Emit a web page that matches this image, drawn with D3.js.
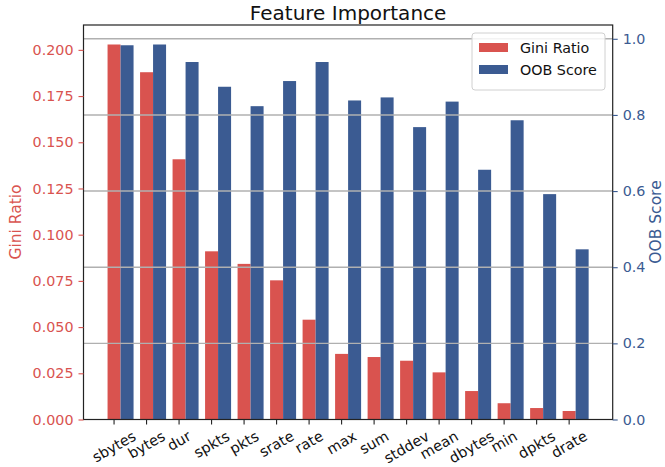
<!DOCTYPE html>
<html>
<head>
<meta charset="utf-8">
<script src="https://cdn.jsdelivr.net/npm/d3@7"></script>
<style>
  html, body { margin: 0; padding: 0; background: #fff; }
  svg { display: block; font-family: "DejaVu Sans", sans-serif; }
</style>
</head>
<body>
<svg id="chart" width="665" height="467"></svg>
<script>
// Feature names, in order of Gini importance
const features = ["sbytes", "bytes", "dur", "spkts", "pkts", "srate", "rate", "max",
                  "sum", "stddev", "mean", "dbytes", "min", "dpkts", "drate"];
// Gini importance ratio per feature (left axis)
const giniRatio = [0.2029, 0.1879, 0.1408, 0.0910, 0.0842, 0.0753, 0.0540, 0.0355,
                   0.0338, 0.0318, 0.0255, 0.0154, 0.0088, 0.0062, 0.0046];
// Out-of-bag score per feature (right axis)
const oobScore = [0.983, 0.985, 0.939, 0.874, 0.823, 0.889, 0.939, 0.838,
                  0.846, 0.768, 0.835, 0.656, 0.786, 0.592, 0.447];
// Tick values
const giniTicks = [0, 0.025, 0.05, 0.075, 0.1, 0.125, 0.15, 0.175, 0.2];
const oobTicks = [0, 0.2, 0.4, 0.6, 0.8, 1.0];

const RED = "#d9534f";
const BLUE = "#3b5b92";

const svg = d3.select("#chart");
const L = 83.5, R = 612.7, T = 25, B = 419.5;
const barW = 0.4;

const x = d3.scaleLinear().domain([-0.94, 15.34]).range([L, R]);
const yG = d3.scaleLinear().domain([0, d3.max(giniRatio) * 1.052]).range([B, T]);
const yO = d3.scaleLinear().domain([0, d3.max(oobScore) * 1.052]).range([B, T]);

// Gini bars (centred on the tick)
svg.append("g").selectAll("rect").data(giniRatio).join("rect")
  .attr("x", (d, i) => x(i - barW / 2))
  .attr("width", (d, i) => x(i + barW / 2) - x(i - barW / 2))
  .attr("y", d => yG(d))
  .attr("height", d => B - yG(d))
  .attr("fill", RED);

// OOB bars (to the right of the Gini bars)
svg.append("g").selectAll("rect").data(oobScore).join("rect")
  .attr("x", (d, i) => x(i + barW / 2))
  .attr("width", (d, i) => x(i + 1.5 * barW) - x(i + barW / 2))
  .attr("y", d => yO(d))
  .attr("height", d => B - yO(d))
  .attr("fill", BLUE);

// Horizontal grid from the OOB axis
svg.append("g").selectAll("line").data(oobTicks.filter(v => v > 0)).join("line")
  .attr("x1", L).attr("x2", R)
  .attr("y1", d => yO(d)).attr("y2", d => yO(d))
  .attr("stroke", "#b0b0b0").attr("stroke-width", 1.4);

// Frame
svg.append("rect")
  .attr("x", L).attr("y", T).attr("width", R - L).attr("height", B - T)
  .attr("fill", "none").attr("stroke", "#222").attr("stroke-width", 1.2);

const tickFont = 14.3;

// Left axis (Gini)
const leftAxis = svg.append("g").attr("transform", `translate(${L},0)`)
  .call(d3.axisLeft(yG).tickValues(giniTicks).tickFormat(d3.format(".3f"))
        .tickSize(5).tickPadding(5));
leftAxis.select(".domain").remove();
leftAxis.selectAll("line").attr("stroke", RED).attr("stroke-width", 1.1);
leftAxis.selectAll("text").attr("fill", RED).style("font-size", tickFont + "px")
  .style("font-family", "DejaVu Sans");

// Right axis (OOB)
const rightAxis = svg.append("g").attr("transform", `translate(${R},0)`)
  .call(d3.axisRight(yO).tickValues(oobTicks).tickFormat(d3.format(".1f"))
        .tickSize(5).tickPadding(5));
rightAxis.select(".domain").remove();
rightAxis.selectAll("line").attr("stroke", BLUE).attr("stroke-width", 1.1);
rightAxis.selectAll("text").attr("fill", BLUE).style("font-size", tickFont + "px")
  .style("font-family", "DejaVu Sans");

// Bottom axis ticks
const xg = svg.append("g");
xg.selectAll("line").data(features).join("line")
  .attr("x1", (d, i) => x(i)).attr("x2", (d, i) => x(i))
  .attr("y1", B).attr("y2", B + 5)
  .attr("stroke", "#222").attr("stroke-width", 1.1);

// Rotated category labels, centred under each tick
const xFont = 14.5;
const angle = 30, rad = angle * Math.PI / 180;
const lblH = xFont * 1.16;
xg.selectAll("text").data(features).join("text")
  .text(d => d)
  .style("font-size", xFont + "px")
  .attr("text-anchor", "middle")
  .attr("dominant-baseline", "central")
  .each(function (d, i) {
    const w = this.getComputedTextLength();
    const H = w * Math.sin(rad) + lblH * Math.cos(rad);
    const cx = x(i), cy = B + 8 + H / 2;
    d3.select(this).attr("transform", `translate(${cx},${cy}) rotate(${-angle})`);
  })
  .attr("fill", "#111");

// Axis titles
svg.append("text")
  .attr("transform", `translate(16,222) rotate(-90)`)
  .attr("text-anchor", "middle").attr("dominant-baseline", "central")
  .style("font-size", "15.5px").attr("fill", RED)
  .text("Gini Ratio");
svg.append("text")
  .attr("transform", `translate(656,222) rotate(-90)`)
  .attr("text-anchor", "middle").attr("dominant-baseline", "central")
  .style("font-size", "15.5px").attr("fill", BLUE)
  .text("OOB Score");

// Title
svg.append("text")
  .attr("x", (L + R) / 2).attr("y", 20)
  .attr("text-anchor", "middle")
  .style("font-size", "20px").attr("fill", "#111")
  .text("Feature Importance");

// Legend
const legend = svg.append("g").attr("transform", "translate(472,33)");
legend.append("rect")
  .attr("width", 133).attr("height", 57).attr("rx", 3)
  .attr("fill", "#fff").attr("fill-opacity", 0.85)
  .attr("stroke", "#d0d0d0").attr("stroke-width", 1);
const items = [{ name: "Gini Ratio", color: RED }, { name: "OOB Score", color: BLUE }];
items.forEach((it, k) => {
  const cy = 14.5 + k * 22;
  legend.append("rect").attr("x", 7).attr("y", cy - 4.5).attr("width", 29).attr("height", 9)
    .attr("fill", it.color);
  legend.append("text").attr("x", 48).attr("y", cy)
    .attr("dominant-baseline", "central")
    .style("font-size", "14.3px").attr("fill", "#111")
    .text(it.name);
});
</script>
</body>
</html>
